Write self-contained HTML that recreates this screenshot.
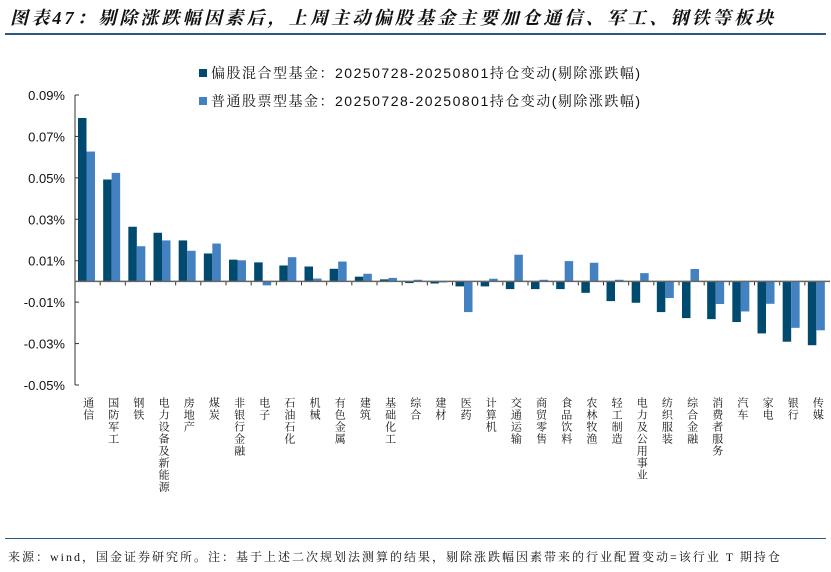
<!DOCTYPE html>
<html><head><meta charset="utf-8"><style>
body{margin:0;width:831px;height:572px;background:#fff;position:relative;overflow:hidden;font-family:"Liberation Sans","Noto Sans CJK SC",sans-serif;}
.title{position:absolute;left:10px;top:4px;font-size:18px;letter-spacing:3.2px;font-weight:bold;font-style:italic;color:#111;font-family:"Liberation Serif","Noto Serif CJK SC",serif;white-space:nowrap;}
.hr{position:absolute;left:5px;width:821px;height:2px;background:#2a5a80;}
.foot{position:absolute;left:8px;top:548px;font-size:12px;letter-spacing:2px;color:#111;white-space:nowrap;font-family:"Liberation Serif","Noto Serif CJK SC",serif;}
</style></head><body>
<div class="title">图表47：剔除涨跌幅因素后，上周主动偏股基金主要加仓通信、军工、钢铁等板块</div>
<div class="hr" style="top:33px"></div>
<svg id="chart" width="831" height="572" style="position:absolute;left:0;top:0"></svg>
<div class="hr" style="top:538px;height:1px"></div>
<div class="foot">来源：wind，国金证券研究所。注：基于上述二次规划法测算的结果，剔除涨跌幅因素带来的行业配置变动=该行业 T 期持仓</div>
<script>
const categories=["通信","国防军工","钢铁","电力设备及新能源","房地产","煤炭","非银行金融","电子","石油石化","机械","有色金属","建筑","基础化工","综合","建材","医药","计算机","交通运输","商贸零售","食品饮料","农林牧渔","轻工制造","电力及公用事业","纺织服装","综合金融","消费者服务","汽车","家电","银行","传媒"];
const hybridValues=[0.0789,0.0492,0.0264,0.0235,0.0198,0.0135,0.0105,0.0092,0.0077,0.0072,0.0061,0.0023,0.0010,-0.0008,-0.0010,-0.0024,-0.0024,-0.0037,-0.0037,-0.0037,-0.0055,-0.0095,-0.0103,-0.0148,-0.0177,-0.0182,-0.0196,-0.0251,-0.0291,-0.0308];
const stockValues=[0.0627,0.0524,0.0170,0.0198,0.0148,0.0183,0.0102,-0.0019,0.0117,0.0014,0.0096,0.0037,0.0017,0.0008,-0.0005,-0.0148,0.0013,0.0129,0.0008,0.0098,0.0090,0.0008,0.0040,-0.0080,0.0060,-0.0109,-0.0145,-0.0108,-0.0224,-0.0236];
const yTicks=[0.09,0.07,0.05,0.03,0.01,-0.01,-0.03,-0.05];
const seriesNames=["偏股混合型基金：20250728-20250801持仓变动(剔除涨跌幅)","普通股票型基金：20250728-20250801持仓变动(剔除涨跌幅)"];
const colors=["#004a70","#4381c1"];
const svg=document.getElementById('chart');
const NS="http://www.w3.org/2000/svg";
const x0=75,x1=830,yTop=95,yBot=385,vMax=0.09,vMin=-0.05;
const y=v=>yTop+(vMax-v)/(vMax-vMin)*(yBot-yTop);
const bw=(x1-x0)/categories.length;
const cx=i=>x0+i*bw;
function mk(t,a){const e=document.createElementNS(NS,t);for(const k in a)e.setAttribute(k,a[k]);svg.appendChild(e);return e;}
let ax=mk('line',{x1:x0,y1:yTop,x2:x0,y2:yBot,stroke:'#333','stroke-width':1});

yTicks.forEach(t=>{
  const l=mk('line',{x1:x0,y1:y(t),x2:x0+4,y2:y(t),stroke:'#333'});
  
  const tx=mk('text',{x:x0-10,y:y(t)+5,'text-anchor':'end','font-size':13,fill:'#111'});
  tx.textContent=t.toFixed(2)+'%';
  
});
categories.forEach((c,i)=>{
  [hybridValues[i],stockValues[i]].forEach((v,s)=>{
    const top=Math.min(y(v),y(0)),h=Math.abs(y(v)-y(0));
    const r=mk('rect',{x:cx(i)+3+s*8.5,y:top,width:8.5,height:h,fill:colors[s]});
    
    
  });
  const tk=mk('line',{x1:cx(i),y1:y(0),x2:cx(i),y2:y(0)+4,stroke:'#333'});
  
  const lb=mk('text',{x:cx(i)+bw/2,y:397,'font-size':11,'letter-spacing':1,fill:'#111',style:'writing-mode:vertical-rl;glyph-orientation-vertical:0','font-family':'Liberation Serif, Noto Serif CJK SC, serif'});
  lb.textContent=c;
  
});
let zl=mk('line',{x1:x0,y1:y(0),x2:x1,y2:y(0),stroke:'#666','stroke-width':1.5});

seriesNames.forEach((n,s)=>{
  const yy=69+s*28;
  const r=mk('rect',{x:199,y:yy,width:8,height:8,fill:colors[s]});
  
  const t=mk('text',{x:211,y:yy+9,'font-size':14,'letter-spacing':1.5,fill:'#111','font-family':'Liberation Sans, Noto Serif CJK SC, sans-serif'});
  t.textContent=n;
  
});
</script>
</body></html>
